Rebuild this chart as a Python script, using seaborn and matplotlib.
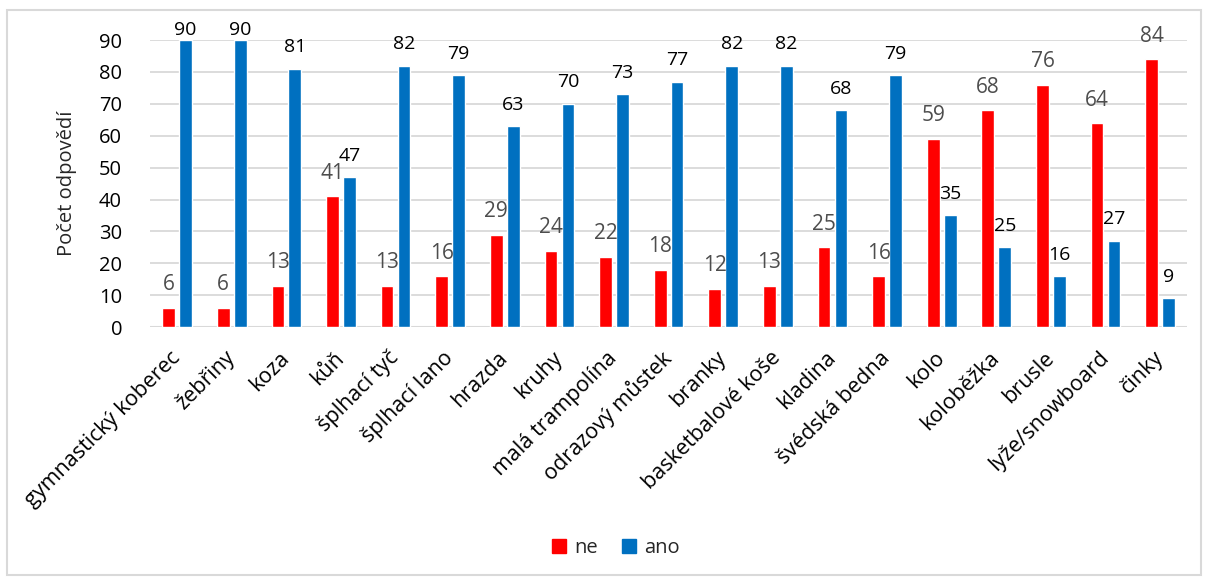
import pandas as pd
import matplotlib
matplotlib.use("Agg")
import matplotlib.pyplot as plt
import seaborn as sns
from matplotlib.patches import Rectangle

# data
categories = ["gymnastický koberec", "žebřiny", "koza", "kůň", "šplhací tyč",
              "šplhací lano", "hrazda", "kruhy", "malá trampolína",
              "odrazový můstek", "branky", "basketbalové koše", "kladina",
              "švédská bedna", "kolo", "koloběžka", "brusle",
              "lyže/snowboard", "činky"]
ne = [6, 6, 13, 41, 13, 16, 29, 24, 22, 18, 12, 13, 25, 16, 59, 68, 76, 64, 84]
ano = [90, 90, 81, 47, 82, 79, 63, 70, 73, 77, 82, 82, 68, 79, 35, 25, 16, 27, 9]
series = ["ne", "ano"]
y_ticks = [0, 10, 20, 30, 40, 50, 60, 70, 80, 90]

RED = "#FF0000"
BLUE = "#0070C0"
GRID = "#D9D9D9"
FS = 14.5

df = pd.DataFrame({
    "kategorie": categories * 2,
    "odpověď": ["ne"] * len(categories) + ["ano"] * len(categories),
    "počet": ne + ano,
})

sns.set_style("white")
plt.rcParams["font.family"] = ["Open Sans", "DejaVu Sans"]

fig = plt.figure(figsize=(12.08, 5.81), dpi=100)
ax = fig.add_axes([0.124, 0.437, 0.859, 0.494])

sns.barplot(data=df, x="kategorie", y="počet", hue="odpověď",
            hue_order=series, palette=[RED, BLUE], width=0.62, gap=0.25,
            saturation=1, ax=ax, legend=False, zorder=3)

ax.set_ylim(0, 90)
ax.set_xlim(-0.5, len(categories) - 0.5)
ax.set_yticks(y_ticks)
ax.yaxis.grid(True, color=GRID, lw=1.3, zorder=0)
ax.set_axisbelow(True)
for s in ax.spines.values():
    s.set_visible(False)
ax.axhline(0, color=GRID, lw=1.5, zorder=1)
ax.tick_params(axis="both", length=0, labelsize=FS, colors="black")
ax.tick_params(axis="y", pad=20)
ax.tick_params(axis="x", pad=20, labelsize=15.5)
plt.setp(ax.get_xticklabels(), rotation=45, ha="right", va="center",
         rotation_mode="anchor")
ax.set_xlabel("")
ax.set_ylabel("Počet odpovědí", fontsize=FS, labelpad=16)

# value labels: "ne" grey and a bit larger, "ano" black
label_style = [("#4D4D4D", 15), ("black", 14)]
for cont, (col, fs) in zip(ax.containers, label_style):
    for bar in cont:
        h = bar.get_height()
        pad = 9 if h < 86 else 1
        ax.annotate(f"{int(h)}", (bar.get_x() + bar.get_width() / 2, h),
                    xytext=(0, pad), textcoords="offset points",
                    ha="center", va="bottom", fontsize=fs, color=col,
                    annotation_clip=False, zorder=4)

# legend
handles = [Rectangle((0, 0), 1, 1, color=RED), Rectangle((0, 0), 1, 1, color=BLUE)]
fig.legend(handles, series, loc="center", bbox_to_anchor=(0.51, 0.057),
           ncol=2, frameon=False, fontsize=FS, handlelength=0.7,
           handleheight=0.7, handletextpad=0.4, columnspacing=1.2)

# chart frame
fig.patches.append(Rectangle((0.006, 0.01), 0.988, 0.973, transform=fig.transFigure,
                             fill=False, edgecolor=GRID, lw=1.5))

fig.savefig("out.png", dpi=100)
